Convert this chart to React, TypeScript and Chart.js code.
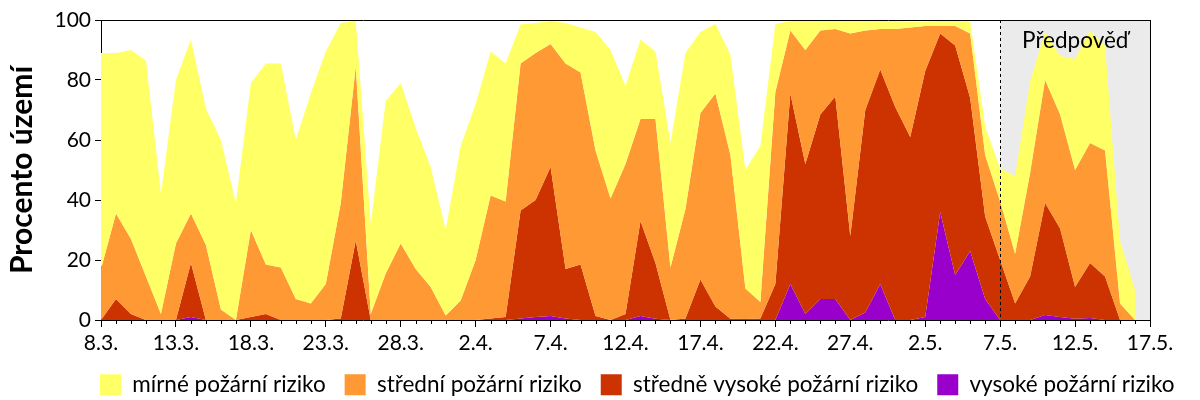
import React, { useEffect, useRef } from "react";
import { Chart, registerables } from "chart.js";

Chart.register(...registerables);

// Days 8.3. – 17.5.
const dates = [
  "8.3.", "9.3.", "10.3.", "11.3.", "12.3.", "13.3.", "14.3.", "15.3.", "16.3.", "17.3.",
  "18.3.", "19.3.", "20.3.", "21.3.", "22.3.", "23.3.", "24.3.", "25.3.", "26.3.", "27.3.",
  "28.3.", "29.3.", "30.3.", "31.3.",
  "1.4.", "2.4.", "3.4.", "4.4.", "5.4.", "6.4.", "7.4.", "8.4.", "9.4.", "10.4.",
  "11.4.", "12.4.", "13.4.", "14.4.", "15.4.", "16.4.", "17.4.", "18.4.", "19.4.", "20.4.",
  "21.4.", "22.4.", "23.4.", "24.4.", "25.4.", "26.4.", "27.4.", "28.4.", "29.4.", "30.4.",
  "1.5.", "2.5.", "3.5.", "4.5.", "5.5.", "6.5.", "7.5.", "8.5.", "9.5.", "10.5.",
  "11.5.", "12.5.", "13.5.", "14.5.", "15.5.", "16.5.", "17.5.",
];

const labelledDates = [
  "8.3.", "13.3.", "18.3.", "23.3.", "28.3.", "2.4.", "7.4.", "12.4.",
  "17.4.", "22.4.", "27.4.", "2.5.", "7.5.", "12.5.", "17.5.",
];

const forecastStart = "7.5.";
const forecastLabel = "Předpověď";

const seriesNames = [
  "mírné požární riziko",
  "střední požární riziko",
  "středně vysoké požární riziko",
  "vysoké požární riziko",
];

const seriesColors = ["#FFFF66", "#FF9933", "#CC3300", "#9900CC"];

// Share of territory (%) with at least the given risk level
const atLeastMirne = [
  89, 89, 90, 86.5, 42, 80, 93.5, 70.5, 60, 39,
  79, 85.5, 85.5, 60, 75.5, 89.5, 99, 99.7, 32, 73,
  79, 64, 51, 30, 58, 72, 89.5, 85.5, 98.5, 99,
  99.7, 99, 97.5, 96, 90, 78, 93.5, 89.5, 59, 89,
  96, 98.7, 88.5, 50, 58, 98.7, 99.7, 99.7, 99.7, 99.7,
  99.7, 99.7, 99.7, 99.7, 99.5, 99.5, 99.7, 99.7, 99.5, 64.5,
  50.5, 48, 79.5, 96, 88, 87, 96.5, 91.5, 26.5, 10,
];

const atLeastStredni = [
  17, 35.5, 27, 14.5, 2, 25.5, 35.5, 25, 3.5, 0,
  30, 18.5, 17.5, 7, 5.5, 12, 39, 84.5, 2, 15.5,
  25.5, 17, 11, 1.5, 6.5, 20, 41.5, 39.5, 85.5, 89,
  92, 85.5, 82.5, 56.5, 40.5, 52, 67, 67, 17.5, 37,
  69, 75.5, 55, 10.5, 6, 76, 96.5, 90, 96.5, 97,
  95.5, 96.5, 97, 97, 97.5, 98, 98, 98, 95.5, 55,
  39.5, 22, 49, 80, 68.5, 50, 59, 56.5, 5.5, 0,
];

const atLeastStredneVysoke = [
  0, 7, 2, 0, 0, 0, 19, 0, 0, 0,
  1, 2, 0, 0, 0, 0, 0.5, 26.5, 0, 0,
  0, 0, 0, 0, 0, 0, 0.5, 1, 36.5, 40,
  51, 17, 18.5, 1.3, 0, 2, 33, 19, 0, 0.5,
  13.5, 4.5, 0.4, 0.3, 0.5, 12, 75.5, 52, 68.5, 74.5,
  28, 70, 83.5, 71, 61, 83, 95.5, 91.5, 74, 34.5,
  20, 5.5, 14.5, 39, 30.5, 11, 19, 14.5, 0, 0,
];

const atLeastVysoke = [
  0, 0, 0, 0, 0, 0, 1, 0, 0, 0,
  0, 0, 0, 0, 0, 0, 0, 0, 0, 0,
  0, 0, 0, 0, 0, 0, 0, 0, 0.5, 1,
  1.3, 0.5, 0, 0, 0, 0, 1.3, 0.4, 0, 0,
  0, 0, 0, 0, 0, 0, 12, 2, 7, 7,
  0, 2.5, 12, 0, 0, 1, 36, 15, 23, 7,
  0, 0, 0, 1.7, 1, 0.4, 0.7, 0, 0, 0,
];

const yTicks = [0, 20, 40, 60, 80, 100];

const FONT = "Lato, 'Open Sans', sans-serif";

const forecastPlugin = {
  id: "forecast",
  afterUpdate(chart: any) {
    // line the legend up with the left edge of the plot
    const lg = chart.legend;
    if (!lg || !lg.lineWidths) return;
    const p = lg.options.labels.padding;
    const x0 = (lg.left + p + lg.right - lg.lineWidths[0]) / 2;
    const d = chart.chartArea.left - 1 - x0;
    lg.left += d;
    lg.right += d;
  },
  beforeDatasetsDraw(chart: any) {
    const { ctx, chartArea: a, scales } = chart;
    const xs = scales.x.getPixelForValue(dates.indexOf(forecastStart));
    ctx.save();
    ctx.fillStyle = "#EBEBEB";
    ctx.fillRect(xs, a.top, a.right - xs, a.bottom - a.top);
    ctx.restore();
  },
  afterDatasetsDraw(chart: any) {
    const { ctx, chartArea: a, scales } = chart;
    const xs = Math.round(scales.x.getPixelForValue(dates.indexOf(forecastStart))) + 0.5;
    ctx.save();
    ctx.strokeStyle = "#000";
    ctx.lineWidth = 1;
    ctx.setLineDash([3, 3]);
    ctx.beginPath();
    ctx.moveTo(xs, a.top);
    ctx.lineTo(xs, a.bottom);
    ctx.stroke();
    ctx.setLineDash([]);
    ctx.fillStyle = "#000";
    ctx.font = `22.5px ${FONT}`;
    ctx.textAlign = "center";
    ctx.textBaseline = "alphabetic";
    ctx.fillText(forecastLabel, (xs + a.right) / 2, a.top + 28);
    ctx.restore();
  },
  afterDraw(chart: any) {
    const { ctx, chartArea: a, scales } = chart;
    ctx.save();
    ctx.strokeStyle = "#000";
    ctx.lineWidth = 1;
    ctx.beginPath();
    ctx.moveTo(a.left, Math.round(a.top) + 0.5);
    ctx.lineTo(a.right + 1, Math.round(a.top) + 0.5);
    ctx.moveTo(Math.round(a.right) + 0.5, a.top);
    ctx.lineTo(Math.round(a.right) + 0.5, a.bottom);
    for (let i = 0; i < dates.length; i++) {
      if (labelledDates.includes(dates[i])) continue;
      const px = Math.round(scales.x.getPixelForValue(i)) + 0.5;
      ctx.moveTo(px, a.bottom);
      ctx.lineTo(px, a.bottom + 4);
    }
    ctx.stroke();
    ctx.restore();
  },
};

export default function App() {
  const ref = useRef<HTMLCanvasElement | null>(null);

  useEffect(() => {
    document.body.style.margin = "0";
    const cumulative = [atLeastMirne, atLeastStredni, atLeastStredneVysoke, atLeastVysoke];
    const chart = new Chart(ref.current as HTMLCanvasElement, {
      type: "line",
      data: {
        labels: dates,
        datasets: seriesNames.map((name, i) => ({
          label: name,
          data: cumulative[i],
          backgroundColor: seriesColors[i],
          borderColor: seriesColors[i],
          borderWidth: 0,
          pointRadius: 0,
          tension: 0,
          fill: i < seriesNames.length - 1 ? "+1" : "origin",
        })),
      },
      options: {
        animation: false,
        responsive: false,
        devicePixelRatio: 1,
        layout: { padding: { left: 0, top: 20, right: 50, bottom: -6 } },
        plugins: {
          tooltip: { enabled: false },
          legend: {
            position: "bottom",
            labels: {
              boxWidth: 21,
              boxHeight: 21,
              padding: 19,
              color: "#000",
              font: { family: FONT, size: 22.5 },
            },
          },
        },
        scales: {
          x: {
            type: "category",
            offset: false,
            afterFit: (s: any) => {
              s.height = 34.5;
            },
            border: { display: true, color: "#000", width: 1 },
            grid: {
              drawOnChartArea: false,
              drawTicks: true,
              tickLength: 7,
              tickColor: (c: any) =>
                labelledDates.includes(dates[c.index]) ? "#000" : "rgba(0,0,0,0)",
            },
            ticks: {
              autoSkip: false,
              maxRotation: 0,
              padding: 4,
              color: "#000",
              font: { family: FONT, size: 21 },
              callback: (_v: any, i: number) =>
                labelledDates.includes(dates[i]) ? dates[i] : "",
            },
          },
          y: {
            min: 0,
            max: 100,
            afterFit: (s: any) => {
              s.width = 101;
            },
            afterBuildTicks: (s: any) => {
              s.ticks = yTicks.map((v) => ({ value: v }));
            },
            border: { display: true, color: "#000", width: 1 },
            grid: { drawOnChartArea: false, drawTicks: true, tickLength: 6, color: "#000" },
            ticks: {
              padding: 4,
              color: "#000",
              font: { family: FONT, size: 21 },
            },
            title: {
              display: true,
              text: "Procento území",
              color: "#000",
              padding: { top: 4, bottom: 0 },
              font: { family: FONT, size: 30, weight: "bold" },
            },
          },
        },
      },
      plugins: [forecastPlugin],
    } as any);
    return () => chart.destroy();
  }, []);

  return (
    <div style={{ width: 1200, height: 400 }}>
      <canvas ref={ref} width={1200} height={400} />
    </div>
  );
}
